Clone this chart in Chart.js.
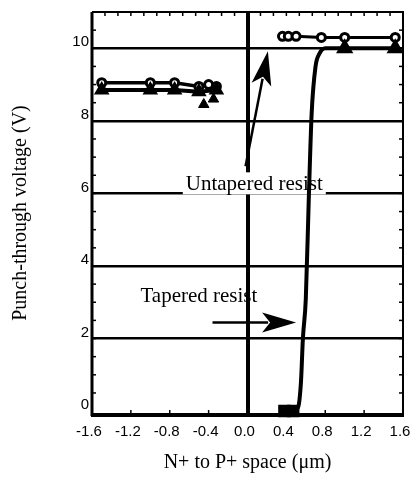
<!DOCTYPE html>
<html><head><meta charset="utf-8">
<script src="https://cdn.jsdelivr.net/npm/chart.js@4/dist/chart.umd.min.js"></script>
<style>html,body{margin:0;padding:0;background:#fff}#wrap{width:413px;height:483px}</style>
</head><body><div id="wrap"><canvas id="c" width="413" height="483"></canvas></div>
<script>
const xTicks = [-1.6,-1.2,-0.8,-0.4,0.0,0.4,0.8,1.2,1.6];
const yTicks = [0,2,4,6,8,10];
const xTitle = 'N+ to P+ space (\u03bcm)';
const yTitle = 'Punch-through voltage (V)';

const untapLeftX = [-1.5,-1.0,-0.75,-0.5,-0.4,-0.32];
const untapLeftY = [9.05,9.05,9.05,8.95,9.0,8.95];
const tapLeftX = [-1.5,-1.0,-0.75,-0.5,-0.32];
const tapLeftY = [8.85,8.85,8.85,8.8,8.85];
const tapLowX = [-0.45,-0.35];
const tapLowY = [8.45,8.6];
const untapRightX = [0.36,0.42,0.5,0.76,1.0,1.52];
const untapRightY = [10.33,10.33,10.33,10.3,10.3,10.3];
const tapRightX = [0.38,0.47,0.52,0.55,0.57,0.6,0.63,0.66,0.7,0.74,0.8,1.0,1.52];
const tapRightY = [0,0,0.1,0.8,2,3.1,5.8,8.2,9.5,9.85,10.0,10.0,10.0];
const tapRightStyle = ['rect','rect','','','','','','','','','','triangle','triangle'];

const notes = [
  {text:'Untapered resist', x:0.07, y:6.25, box:true},
  {text:'Tapered resist', x:-0.5, y:3.15, box:false}
];
const arrows = [
  {x1:-0.02, y1:6.75, x2:0.21, y2:9.92},
  {x1:-0.36, y1:2.44, x2:0.5, y2:2.44}
];

const pts = (xs, ys) => xs.map((x,i)=>({x, y:ys[i]}));
const serif = "'Liberation Serif','Times New Roman',serif";
const sans = "'Liberation Sans',Arial,sans-serif";

const framePlugin = {
  id:'frame',
  beforeDatasetsDraw(chart){
    const {ctx, chartArea:a, scales:{x,y}} = chart;
    ctx.save();
    ctx.strokeStyle='#000';
    ctx.lineWidth=1.5;
    for(let v=-1.6; v<=1.6001; v+=0.4/3){
      const px=x.getPixelForValue(v);
      ctx.beginPath(); ctx.moveTo(px,a.top); ctx.lineTo(px,a.top+4); ctx.stroke();
    }
    for(const v of xTicks){
      const px=x.getPixelForValue(v);
      ctx.beginPath(); ctx.moveTo(px,a.bottom); ctx.lineTo(px,a.bottom-4); ctx.stroke();
    }
    for(let v=0.5; v<11; v+=0.5){
      const py=y.getPixelForValue(v);
      ctx.beginPath(); ctx.moveTo(a.right,py); ctx.lineTo(a.right-4,py); ctx.stroke();
      ctx.beginPath(); ctx.moveTo(a.left,py); ctx.lineTo(a.left+4,py); ctx.stroke();
    }
    ctx.lineWidth=2;
    ctx.beginPath(); ctx.moveTo(a.left,a.top); ctx.lineTo(a.right,a.top); ctx.lineTo(a.right,a.bottom); ctx.stroke();
    ctx.lineWidth=3;
    ctx.beginPath(); ctx.moveTo(a.left,a.top); ctx.lineTo(a.left,a.bottom+2); ctx.stroke();
    ctx.lineWidth=4;
    ctx.beginPath(); ctx.moveTo(a.left-1,a.bottom+1); ctx.lineTo(a.right+1,a.bottom+1); ctx.stroke();
    ctx.font = '21px '+serif;
    ctx.textAlign='center'; ctx.textBaseline='middle';
    for(const n of notes){
      const px=x.getPixelForValue(n.x), py=y.getPixelForValue(n.y);
      const w=ctx.measureText(n.text).width;
      if(n.box){ ctx.fillStyle='#fff'; ctx.fillRect(px-w/2-3,py-12,w+6,22); }
      ctx.fillStyle='#000'; ctx.fillText(n.text,px,py);
    }
    for(const ar of arrows){
      const x1=x.getPixelForValue(ar.x1), y1=y.getPixelForValue(ar.y1);
      const x2=x.getPixelForValue(ar.x2), y2=y.getPixelForValue(ar.y2);
      const ang=Math.atan2(y2-y1,x2-x1), L=34, W=10;
      const bx=x2-L*Math.cos(ang), by=y2-L*Math.sin(ang);
      ctx.lineWidth=2.5;
      ctx.beginPath(); ctx.moveTo(x1,y1); ctx.lineTo(bx+6*Math.cos(ang),by+6*Math.sin(ang)); ctx.stroke();
      ctx.fillStyle='#000';
      ctx.beginPath(); ctx.moveTo(x2,y2);
      ctx.lineTo(bx+W*Math.sin(ang), by-W*Math.cos(ang));
      ctx.lineTo(bx+8*Math.cos(ang), by+8*Math.sin(ang));
      ctx.lineTo(bx-W*Math.sin(ang), by+W*Math.cos(ang));
      ctx.closePath(); ctx.fill();
    }
    ctx.restore();
  }
};

const common = {showLine:true, borderColor:'#000', backgroundColor:'#000', pointBorderColor:'#000', clip:false};

new Chart(document.getElementById('c'), {
  type:'scatter',
  data:{datasets:[
    {...common, data:pts(tapLeftX,tapLeftY), borderWidth:4, pointStyle:'triangle', pointRadius:5, pointBackgroundColor:'#000'},
    {...common, data:pts(tapLowX,tapLowY), showLine:false, pointStyle:'triangle', pointRadius:6, pointBackgroundColor:'#000'},
    {...common, data:pts(untapLeftX,untapLeftY), borderWidth:3.5, pointStyle:'circle', pointRadius:4, pointBorderWidth:3, pointBackgroundColor:'#fff'},
    {...common, data:pts(tapRightX,tapRightY), borderWidth:4, cubicInterpolationMode:'monotone',
      pointStyle:tapRightStyle.map(s=>s||'circle'), pointRadius:tapRightStyle.map(s=>s?6:0), pointBackgroundColor:'#000'},
    {...common, data:pts(untapRightX,untapRightY), borderWidth:3, pointStyle:'circle', pointRadius:4, pointBorderWidth:3, pointBackgroundColor:'#fff'}
  ]},
  options:{
    responsive:false, devicePixelRatio:1, animation:false,
    layout:{padding:{top:12,right:8,left:0,bottom:0}},
    plugins:{legend:{display:false}, tooltip:{enabled:false}},
    scales:{
      x:{type:'linear', min:-1.6, max:1.6,
        afterBuildTicks(s){ s.ticks = xTicks.map(v=>({value:v})); },
        afterFit(s){ s.height = 69; s.paddingLeft = 0; s.paddingRight = 0; },
        ticks:{callback:v=>v.toFixed(1), color:'#000', font:{family:sans, size:15}, padding:9, labelOffset:-3, maxRotation:0, autoSkip:false},
        grid:{color:c=>c.tick && c.tick.value===0 ? '#000':'rgba(0,0,0,0)', lineWidth:4, drawTicks:false},
        border:{display:false},
        title:{display:true, text:xTitle, color:'#000', font:{family:serif, size:20}, padding:{top:0,bottom:8}}
      },
      y:{type:'linear', min:-0.08, max:11,
        afterBuildTicks(s){ s.ticks = yTicks.map(v=>({value:v})); },
        afterFit(s){ s.width = 92; s.paddingTop = 0; s.paddingBottom = 0; },
        ticks:{color:'#000', font:{family:sans, size:15}, padding:3, labelOffset:-6},
        grid:{color:c=>c.tick && c.tick.value>0 ? '#000':'rgba(0,0,0,0)', lineWidth:2.5, drawTicks:false},
        border:{display:false},
        title:{display:true, text:yTitle, color:'#000', font:{family:serif, size:20}, padding:{top:9,bottom:0}}
      }
    }
  },
  plugins:[framePlugin]
});
</script></body></html>
